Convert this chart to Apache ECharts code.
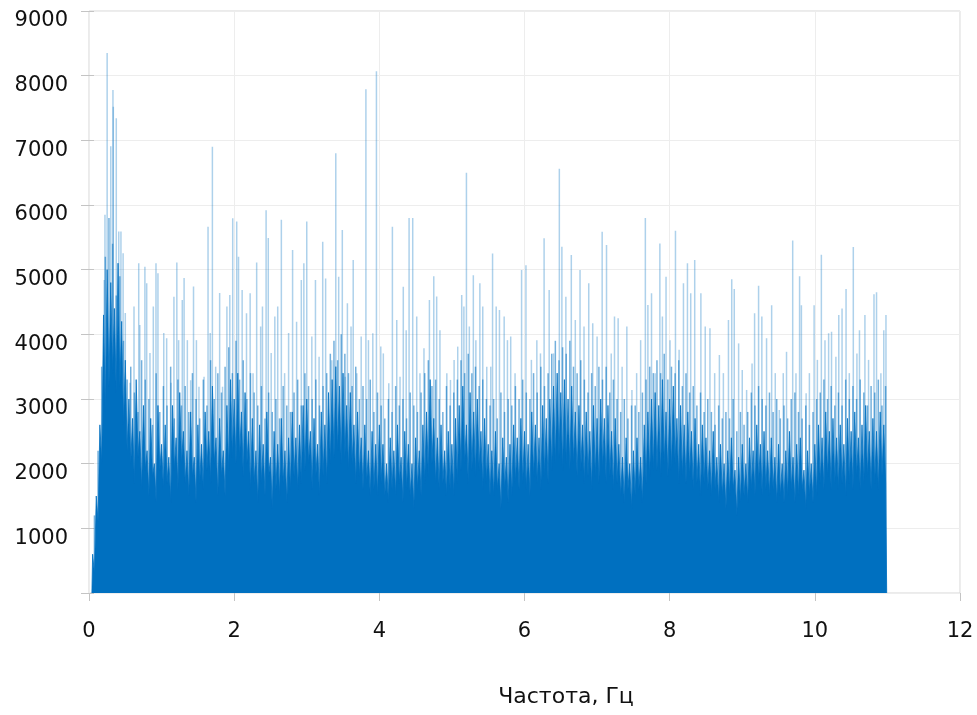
<!DOCTYPE html>
<html><head><meta charset="utf-8">
<script src="https://cdn.jsdelivr.net/npm/echarts@6.0.0/dist/echarts.min.js"></script>
<style>html,body{margin:0;padding:0;background:#fff}#c{width:977px;height:715px}</style>
</head><body><div id="c"></div>
<script>
// ---- data ----
const xTitle = 'Частота, Гц';
const xMin = 0, xMax = 12, xStep = 2;
const yMin = 0, yMax = 9000, yStep = 1000;

// dense part of the spectrum: local maxima every 0.05 Hz starting at 0.05 Hz,
// and local minima between them (0.075 Hz, 0.125 Hz, ...)
const denseStart = 0.05, denseStep = 0.05;
const denseHigh = [
  600,1500,2600,4300,5000,
  4800,4400,5100,4200,3600,  3000,2700,3300,2500,2900,  2200,2700,2000,2900,2300,
  2600,2100,2900,2400,3100,  2500,2200,2800,2100,2600,  2300,2800,2500,3200,2400,
  2700,2200,2900,3300,3000,  3400,2800,3100,2500,2700,  2200,2600,2300,2800,2100,
  2500,2300,2700,2200,2400,  2800,2400,2600,2900,3000,  2500,2700,2300,2800,2600,
  3100,3300,3500,3200,3400,  2900,3100,2600,2800,2400,  2600,2200,2500,2300,2600,
  2300,2000,2400,2200,2600,  2100,2500,2300,2000,2400,  2200,2600,2800,3300,2700,
  2400,2600,2200,2500,2300,  2700,2900,3200,2600,3100,  2800,3000,2500,2700,2300,
  2200,2500,2000,2400,2100,  2300,2600,2400,2700,2500,  2300,2800,2600,2400,2900,
  2700,3000,3200,3400,3100,  3300,3000,3200,2800,2900,  2600,2800,2500,2900,2700,
  3000,2700,2900,2500,2700,  2300,2100,2400,2000,2200,  2400,2100,2600,2800,3000,
  3100,2900,3300,2800,3000,  3200,2700,2900,2600,2800,  2500,2700,2300,2600,2400,
  2200,2500,2100,2300,2000,  2200,2400,1900,2100,2300,  2000,2400,2200,2600,2300,
  2500,2200,2400,2100,2300,  2000,2200,2500,2100,2300,  2400,1900,2200,2000,2300,
  2600,2400,2800,2500,2700,  2400,2600,2300,2700,2500,  2800,2400,2600,2900,2500,
  2700,2500,2800,2600
];
const denseLow = [
  300,1100,2000,2800,3200,
  3400,3100,3200,2600,2200,  2000,1700,2100,1600,1900,  1500,1800,1400,1900,1600,
  1700,1400,1900,1600,2000,  1700,1500,1800,1400,1700,  1600,1900,1700,2000,1500,
  1800,1500,1900,2100,2000,  2100,1800,2000,1600,1700,  1400,1700,1500,1800,1300,
  1600,1500,1700,1400,1600,  1800,1600,1700,1900,2000,  1600,1800,1500,1800,1700,
  2000,2100,2200,2000,2100,  1900,2000,1700,1800,1600,  1700,1500,1600,1500,1700,
  1500,1400,1600,1500,1700,  1400,1600,1500,1300,1600,  1500,1700,1800,2000,1700,
  1600,1700,1500,1600,1500,  1700,1900,2000,1700,1900,  1800,1900,1600,1700,1500,
  1500,1600,1300,1600,1400,  1500,1700,1600,1700,1600,  1500,1800,1700,1600,1800,
  1700,1900,2000,2100,1900,  2000,1900,2000,1800,1900,  1700,1800,1600,1800,1700,
  1900,1700,1800,1600,1700,  1500,1400,1600,1300,1500,  1600,1400,1700,1800,1900,
  1900,1800,2000,1800,1900,  2000,1700,1800,1700,1800,  1600,1700,1500,1700,1600,
  1500,1600,1400,1500,1300,  1500,1600,1200,1400,1500,  1400,1600,1500,1700,1500,
  1600,1500,1600,1400,1500,  1400,1500,1600,1400,1500,  1600,1300,1500,1400,1500,
  1700,1600,1800,1600,1700,  1600,1700,1500,1700,1600,  1800,1600,1700,1800,1600,
  1700,1600,1800,1700
];
// medium-height lines lying between the dense maxima (at 0.075 Hz, 0.125 Hz, ...)
const midHigh = [
  1200,2200,3500,5200,5800,
  5400,4600,4900,3900,3300,  3500,3100,2800,3600,3300,  3000,2600,3400,2800,3200,
  2900,3500,2700,3300,2900,  3200,2800,3400,3000,2700,  3300,2900,3600,3000,3400,
  3100,3500,3800,3400,3900,  3300,3600,3000,3400,3100,  2900,3200,2700,3100,2800,
  3000,2700,3200,2900,2800,  3100,3300,2900,3400,3200,  3000,3300,2900,3200,3400,
  3700,3900,3600,4000,3700,  3400,3200,3500,3000,3200,  3000,3300,2800,3100,2900,
  2700,3000,2800,3200,2900,  3000,2700,3100,2900,2800,  3100,3400,3600,3200,3300,
  3000,2800,3200,2900,3100,  3300,3600,3400,3700,3400,  3500,3200,3300,3000,2900,
  3000,2700,3100,2800,3000,  2900,3200,3000,3300,3100,  3000,3400,3100,3500,3200,
  3400,3700,3900,3600,3800,  3700,3900,3500,3400,3600,  3300,3100,3400,3200,3500,
  3300,3500,3100,3300,3000,  2800,3000,2700,2900,2900,  2800,3100,3300,3500,3400,
  3600,3400,3700,3300,3500,  3400,3600,3200,3400,3100,  3200,2900,3100,2800,3000,
  2800,2600,2900,2700,2800,  2700,3000,2500,2800,2600,  2800,3100,2900,3200,3000,
  2900,3100,2800,3000,2700,  2900,2700,3000,3100,2800,  2700,2900,2600,2800,3000,
  3100,3300,3000,3200,2900,  3100,2900,3300,3000,3200,  3000,3300,3100,2900,3200,
  3100,3300,2900,3200
];
// where the spectrum starts and ends (value 0)
const edgeFreq = [0.04, 10.99];

// individual tall spectral lines
const spikeFreq = [0.21,0.22,0.25,0.30,0.33,0.335,0.376,0.41,0.44,0.47,0.50,0.565,0.62,0.685,0.70,0.77,0.795,0.84,0.886,0.923,0.95,1.03,1.07,1.13,1.17,1.21,1.235,1.285,1.31,1.355,1.40,1.44,1.48,1.515,1.585,1.64,1.67,1.70,1.745,1.80,1.84,1.90,1.94,1.98,2.035,2.06,2.11,2.17,2.22,2.26,2.31,2.365,2.39,2.44,2.47,2.51,2.56,2.60,2.65,2.695,2.75,2.805,2.86,2.925,2.96,3.00,3.07,3.12,3.17,3.22,3.26,3.345,3.40,3.44,3.49,3.53,3.56,3.61,3.64,3.69,3.75,3.815,3.85,3.91,3.96,4.02,4.055,4.13,4.18,4.24,4.285,4.33,4.37,4.41,4.46,4.515,4.56,4.615,4.69,4.75,4.79,4.835,4.93,4.98,5.03,5.08,5.135,5.165,5.20,5.24,5.295,5.33,5.385,5.425,5.48,5.535,5.56,5.61,5.655,5.72,5.765,5.81,5.87,5.96,6.02,6.095,6.17,6.22,6.27,6.34,6.40,6.48,6.515,6.57,6.645,6.70,6.765,6.82,6.885,6.94,7.00,7.07,7.13,7.195,7.24,7.29,7.345,7.41,7.48,7.545,7.60,7.665,7.70,7.75,7.80,7.865,7.90,7.95,8.005,8.08,8.13,8.19,8.245,8.29,8.345,8.43,8.49,8.555,8.62,8.685,8.74,8.81,8.855,8.89,8.95,9.00,9.06,9.135,9.17,9.225,9.27,9.335,9.405,9.455,9.51,9.565,9.61,9.695,9.74,9.79,9.815,9.88,9.925,9.99,10.035,10.09,10.14,10.19,10.23,10.29,10.33,10.375,10.43,10.475,10.53,10.58,10.615,10.69,10.74,10.815,10.85,10.91,10.95,10.98];
const spikeValue = [4840,5850,8350,6910,7780,7520,7340,5590,5590,5255,4330,3250,4430,5100,4145,5045,4790,3710,4430,5100,4945,4020,3940,3250,4580,5110,3910,4530,4870,3910,3290,4740,3910,3190,3345,5665,4020,6900,3500,4640,3190,4430,4610,5795,5745,5200,4685,4325,4635,3400,5110,4120,4430,5920,5490,3710,4275,4430,5770,3400,4020,5305,4195,4840,5100,5745,3965,4840,3655,5430,4865,3600,6800,4890,5615,3345,4480,4120,5150,3400,3965,7790,3910,4015,8070,3810,3705,3245,5665,4220,3345,4735,4065,5800,5800,4275,3400,3785,4530,4900,4585,4065,3400,3295,3605,3810,4610,4430,6500,4120,4915,3910,4790,4430,3500,3500,5250,4430,4375,4275,3910,3965,3400,4995,5070,3605,3910,3705,5485,4685,3705,6560,5355,4580,5225,4220,4995,4120,4790,4170,3965,5585,5380,3705,4275,4250,3500,4120,3140,3400,3910,5800,4455,4635,3400,5405,4275,4890,3910,5600,3760,4790,5100,4635,5150,4635,4120,4095,3400,3680,3400,4220,4850,4700,3860,3450,3140,3550,4325,4750,4275,3940,4450,3400,2830,3400,3730,5450,3400,4900,4450,3090,3400,4450,3605,5230,3910,4015,4040,3655,4300,4400,4700,3400,5350,3705,4065,4300,3605,4620,4650,3400,4065,4300];

// ---- chart ----
const BLUE = '#0070C0';
const FONT = 'DejaVu Sans';
const chart = echarts.init(document.getElementById('c'), null, {renderer: 'canvas'});

const denseData = [[edgeFreq[0], 0]];
const midData = [];
for (let i = 0; i < denseHigh.length; i++) {
  const f = denseStart + i * denseStep;
  const fm = +(f + denseStep / 2).toFixed(4);
  denseData.push([+f.toFixed(4), denseHigh[i]]);
  denseData.push([fm, denseLow[i]]);
  midData.push([fm, midHigh[i]]);
}
denseData.push([edgeFreq[1], denseLow[denseLow.length - 1]]);
denseData.push([edgeFreq[1], 0]);
const spikeData = spikeFreq.map((f, i) => [f, spikeValue[i]]);

const option = {
  animation: false,
  backgroundColor: '#ffffff',
  grid: {left: 89, right: 17, top: 11, bottom: 122, show: true, borderColor: '#d6d6d6', borderWidth: 1, containLabel: false},
  xAxis: [
    {type: 'value', min: xMin, max: xMax, interval: xStep,
     axisLine: {show: false}, axisTick: {show: false},
     splitLine: {show: true, lineStyle: {color: '#ededed', width: 1}},
     axisLabel: {color: '#111', fontSize: 21, fontFamily: FONT, margin: 28}},
    {type: 'value', position: 'top', min: xMin, max: xMax, interval: xStep,
     axisLine: {show: false}, axisTick: {show: true, inside: true, length: 8, lineStyle: {color: '#c4c4c4'}},
     axisLabel: {show: false}, splitLine: {show: false}}
  ],
  yAxis: [
    {type: 'value', min: yMin, max: yMax, interval: yStep,
     axisLine: {show: false}, axisTick: {show: true, inside: true, length: 5, lineStyle: {color: '#c4c4c4'}},
     splitLine: {show: true, lineStyle: {color: '#ededed', width: 1}},
     axisLabel: {margin: 21, formatter: v => v === 0 ? '' : '{a|' + v + '}',
                 rich: {a: {color: '#111', fontSize: 21, fontFamily: FONT, padding: [20, 0, 0, 0]}}}},
    {type: 'value', position: 'right', min: yMin, max: yMax, interval: yStep,
     axisLine: {show: false}, axisTick: {show: true, inside: true, length: 8, lineStyle: {color: '#c4c4c4'}},
     axisLabel: {show: false}, splitLine: {show: false}}
  ],
  graphic: [{
    type: 'text', x: 566, y: 697,
    style: {text: xTitle, fill: '#111', fontSize: 22, fontFamily: FONT, textAlign: 'center', textVerticalAlign: 'middle'}
  }],
  series: [
    {type: 'bar', data: spikeData, xAxisIndex: 0, yAxisIndex: 0, barWidth: 1.5, barGap: '-100%',
     itemStyle: {color: 'rgba(0,112,192,0.32)'}, z: 2},
    {type: 'bar', data: midData, xAxisIndex: 0, yAxisIndex: 0, barWidth: 1.5, barGap: '-100%',
     itemStyle: {color: 'rgba(0,112,192,0.55)'}, z: 2},
    {type: 'line', data: denseData, xAxisIndex: 0, yAxisIndex: 0, showSymbol: false, symbol: 'none',
     sampling: null, lineStyle: {color: BLUE, width: 0.8}, areaStyle: {color: BLUE, opacity: 1}, z: 3}
  ]
};
chart.setOption(option);
</script>
</body></html>
